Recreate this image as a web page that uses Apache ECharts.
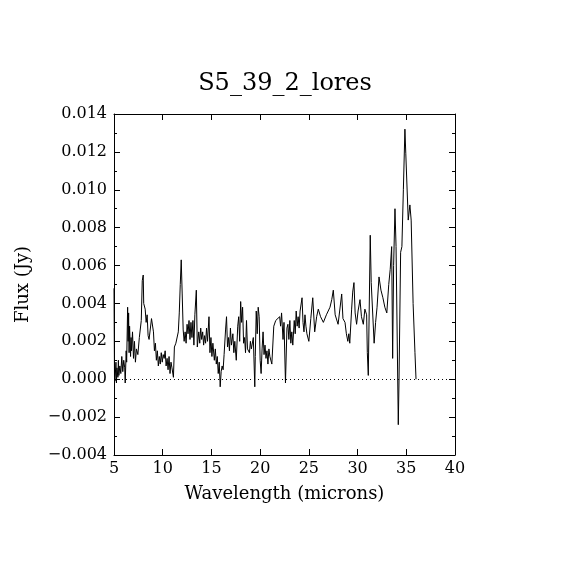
<!DOCTYPE html>
<html>
<head>
<meta charset="utf-8">
<script src="https://cdn.jsdelivr.net/npm/echarts@6/dist/echarts.min.js"></script>
<style>
  html, body { margin: 0; padding: 0; background: #fff; }
  #main { width: 570px; height: 570px; }
</style>
</head>
<body>
<div id="main"></div>
<script>
var wavelength = [
    5.0, 5.05, 5.1, 5.2, 5.25, 5.3, 5.4, 5.45, 5.5, 5.6, 5.7, 5.8, 5.9, 6.0, 6.1, 6.15, 6.25, 6.3,
    6.4, 6.45, 6.5, 6.55, 6.6, 6.7, 6.75, 6.8, 6.9, 7.0, 7.1, 7.2, 7.3, 7.45, 7.6, 7.8, 7.9, 8.0,
    8.05, 8.2, 8.3, 8.4, 8.5, 8.6, 8.7, 8.85, 8.95, 9.05, 9.15, 9.25, 9.35, 9.45, 9.55, 9.65, 9.75,
    9.85, 9.95, 10.05, 10.15, 10.25, 10.35, 10.45, 10.55, 10.65, 10.75, 10.85, 10.95, 11.1, 11.2,
    11.35, 11.5, 11.6, 11.7, 11.8, 11.9, 12.0, 12.1, 12.2, 12.3, 12.4, 12.5, 12.6, 12.7, 12.8, 12.9,
    13.0, 13.1, 13.2, 13.3, 13.45, 13.55, 13.7, 13.8, 13.9, 14.0, 14.1, 14.2, 14.3, 14.4, 14.5,
    14.6, 14.75, 14.85, 14.95, 15.05, 15.15, 15.3, 15.4, 15.5, 15.6, 15.7, 15.8, 15.9, 16.0, 16.1,
    16.2, 16.3, 16.45, 16.55, 16.65, 16.75, 16.85, 16.95, 17.05, 17.2, 17.3, 17.4, 17.55, 17.7,
    17.8, 17.9, 18.0, 18.1, 18.2, 18.3, 18.4, 18.5, 18.6, 18.7, 18.8, 18.9, 19.0, 19.1, 19.3, 19.45,
    19.5, 19.6, 19.7, 19.8, 19.9, 20.0, 20.1, 20.2, 20.3, 20.4, 20.5, 20.6, 20.7, 20.8, 20.9, 21.0,
    21.2, 21.4, 21.6, 21.8, 22.0, 22.1, 22.2, 22.35, 22.45, 22.6, 22.75, 22.85, 22.95, 23.05, 23.15,
    23.25, 23.35, 23.5, 23.6, 23.7, 23.8, 23.9, 24.0, 24.1, 24.3, 24.4, 24.5, 24.6, 24.7, 24.8,
    24.9, 25.0, 25.2, 25.4, 25.6, 25.8, 25.97, 26.2, 26.49, 26.8, 27.17, 27.35, 27.51, 27.7, 27.85,
    28.0, 28.2, 28.37, 28.5, 28.71, 28.85, 29.0, 29.1, 29.2, 29.39, 29.5, 29.63, 29.75, 29.9, 30.05,
    30.25, 30.4, 30.59, 30.75, 30.93, 31.0, 31.1, 31.3, 31.4, 31.5, 31.7, 31.85, 32.0, 32.2, 32.4,
    32.6, 32.8, 33.0, 33.2, 33.35, 33.5, 33.6, 33.7, 33.84, 33.95, 34.18, 34.25, 34.42, 34.55, 34.7,
    34.86, 34.95, 35.2, 35.37, 35.5, 35.7, 35.89, 36.0
];
var flux = [
    0.0048, 0.0001, -0.0001, 0.0009, -0.0002, 0.0006, 0.0001, 0.0010, 0.0002, 0.0007, 0.0003, 0.0012, 0.0004, 0.0010, 0.0006, -0.0002, 0.0015, 0.0009,
    0.0038, 0.0020, 0.0035, 0.0014, 0.0028, 0.0012, 0.0022, 0.0015, 0.0025, 0.0011, 0.0020, 0.0009, 0.0016, 0.0013, 0.0022, 0.0031, 0.0052, 0.0055,
    0.0040, 0.0037, 0.0030, 0.0034, 0.0023, 0.0021, 0.0022, 0.0032, 0.0031, 0.0025, 0.0015, 0.0019, 0.0010, 0.0015, 0.0007, 0.0012, 0.0008,
    0.0014, 0.0009, 0.0013, 0.0011, 0.0015, 0.0007, 0.0011, 0.0005, 0.0012, 0.0003, 0.0009, 0.0006, 0.0001, 0.0017,
    0.0019, 0.0020, 0.0025, 0.0035, 0.0050, 0.0063, 0.0045, 0.0026, 0.0020, 0.0025, 0.0019, 0.0029, 0.0024, 0.0031, 0.0021, 0.0030,
    0.0022, 0.0031, 0.0018, 0.0034, 0.0047, 0.0017, 0.0025, 0.0019, 0.0027, 0.0021, 0.0025, 0.0018, 0.0023, 0.0019, 0.0027,
    0.0020, 0.0033, 0.0014, 0.0022, 0.0012, 0.0019, 0.0010, 0.0016, 0.0008, 0.0012, 0.0003, 0.0009, -0.0004, 0.0004, 0.0007,
    0.0005, 0.0013, 0.0026, 0.0033, 0.0017, 0.0022, 0.0015, 0.0027, 0.0018, 0.0024, 0.0014, 0.0020, 0.0010, 0.0028,
    0.0033, 0.0020, 0.0041, 0.0030, 0.0038, 0.0019, 0.0022, 0.0014, 0.0031, 0.0016, 0.0017, 0.0014, 0.0020, 0.0016, 0.0022, -0.0004,
    0.0012, 0.0036, 0.0024, 0.0038, 0.0033, 0.0010, 0.0003, 0.0016, 0.0025, 0.0013, 0.0018, 0.0011, 0.0015, 0.0008, 0.0016, 0.0012,
    0.0008, 0.0028, 0.0031, 0.0030, 0.0033, 0.0028, 0.0035, 0.0021, 0.0030, -0.0002, 0.0027, 0.0029, 0.0021, 0.0031, 0.0019,
    0.0025, 0.0018, 0.0031, 0.0024, 0.0036, 0.0028, 0.0033, 0.0027, 0.0036, 0.0043, 0.0030, 0.0025, 0.0034, 0.0028, 0.0024,
    0.0024, 0.0020, 0.0032, 0.0043, 0.0025, 0.0033, 0.0037, 0.0033, 0.0030, 0.0034, 0.0038, 0.0042, 0.0047, 0.0034, 0.0034,
    0.0029, 0.0029, 0.0045, 0.0032, 0.0030, 0.0024, 0.0020, 0.0024, 0.0019, 0.0037, 0.0046, 0.0051, 0.0035, 0.0029, 0.0036,
    0.0042, 0.0033, 0.0029, 0.0037, 0.0034, 0.0014, 0.0002, 0.0076, 0.0051, 0.0050, 0.0019, 0.0030, 0.0038, 0.0054, 0.0047,
    0.0043, 0.0038, 0.0035, 0.0050, 0.0058, 0.0070, 0.0011, 0.0060, 0.0090, 0.0070, -0.0024, -0.0002, 0.0067, 0.0070, 0.0100,
    0.0132, 0.0119, 0.0084, 0.0092, 0.0084, 0.0040, 0.0014, 0.0000
];
var xTicks = [5, 10, 15, 20, 25, 30, 35, 40];
var yTicks = [-0.004, -0.002, 0.000, 0.002, 0.004, 0.006, 0.008, 0.010, 0.012, 0.014];

var points = wavelength.map(function (w, i) { return [w, flux[i]]; });
var font = 'DejaVu Serif';

function yLabel(v) {
    var s = Math.abs(v).toFixed(3);
    return (v < -1e-9 ? '\u2212' : '') + s;
}

var myChart = echarts.init(document.getElementById('main'));
var axisLineStyle = { color: '#000', width: 1 };
option = {
    backgroundColor: '#fff',
    animation: false,
    title: {
        text: 'S5_39_2_lores',
        left: 'center',
        top: 67,
        textStyle: { fontFamily: font, fontSize: 24, fontWeight: 'normal', color: '#000' }
    },
    grid: { left: 114, right: 115, top: 114, bottom: 115 },
    xAxis: [{
        type: 'value',
        min: xTicks[0],
        max: xTicks[xTicks.length - 1],
        interval: 5,
        name: 'Wavelength (microns)',
        nameLocation: 'middle',
        nameGap: 30,
        nameTextStyle: { fontFamily: font, fontSize: 18, color: '#000' },
        axisLine: { onZero: false, lineStyle: axisLineStyle },
        axisTick: { inside: true, length: 6, lineStyle: axisLineStyle },
        axisLabel: { fontFamily: font, fontSize: 16, color: '#000', margin: 6 },
        splitLine: { show: false }
    }, {
        type: 'value',
        position: 'top',
        min: xTicks[0],
        max: xTicks[xTicks.length - 1],
        interval: 5,
        axisLine: { show: true, onZero: false, lineStyle: axisLineStyle },
        axisTick: { inside: true, length: 6, lineStyle: axisLineStyle },
        axisLabel: { show: false },
        splitLine: { show: false }
    }],
    yAxis: [{
        type: 'value',
        min: yTicks[0],
        max: yTicks[yTicks.length - 1],
        interval: 0.002,
        name: 'Flux (Jy)',
        nameLocation: 'middle',
        nameGap: 82,
        nameTextStyle: { fontFamily: font, fontSize: 18, color: '#000' },
        axisLine: { show: true, onZero: false, lineStyle: axisLineStyle },
        axisTick: { inside: true, length: 6, lineStyle: axisLineStyle },
        minorTick: { show: true, splitNumber: 2, length: 3, lineStyle: axisLineStyle },
        axisLabel: { fontFamily: font, fontSize: 16, color: '#000', margin: 7, formatter: yLabel },
        splitLine: { show: false }
    }, {
        type: 'value',
        position: 'right',
        min: yTicks[0],
        max: yTicks[yTicks.length - 1],
        interval: 0.002,
        axisLine: { show: true, onZero: false, lineStyle: axisLineStyle },
        axisTick: { inside: true, length: 6, lineStyle: axisLineStyle },
        minorTick: { show: true, splitNumber: 2, length: 3, lineStyle: axisLineStyle },
        axisLabel: { show: false },
        splitLine: { show: false }
    }],
    series: [{
        name: 'Flux',
        type: 'line',
        data: points,
        showSymbol: false,
        lineStyle: { color: '#000', width: 1 },
        markLine: {
            silent: true,
            symbol: 'none',
            label: { show: false },
            lineStyle: { color: '#000', type: [1, 3], width: 1 },
            data: [{ yAxis: 0 }]
        }
    }]
};
myChart.setOption(option);
</script>
</body>
</html>
